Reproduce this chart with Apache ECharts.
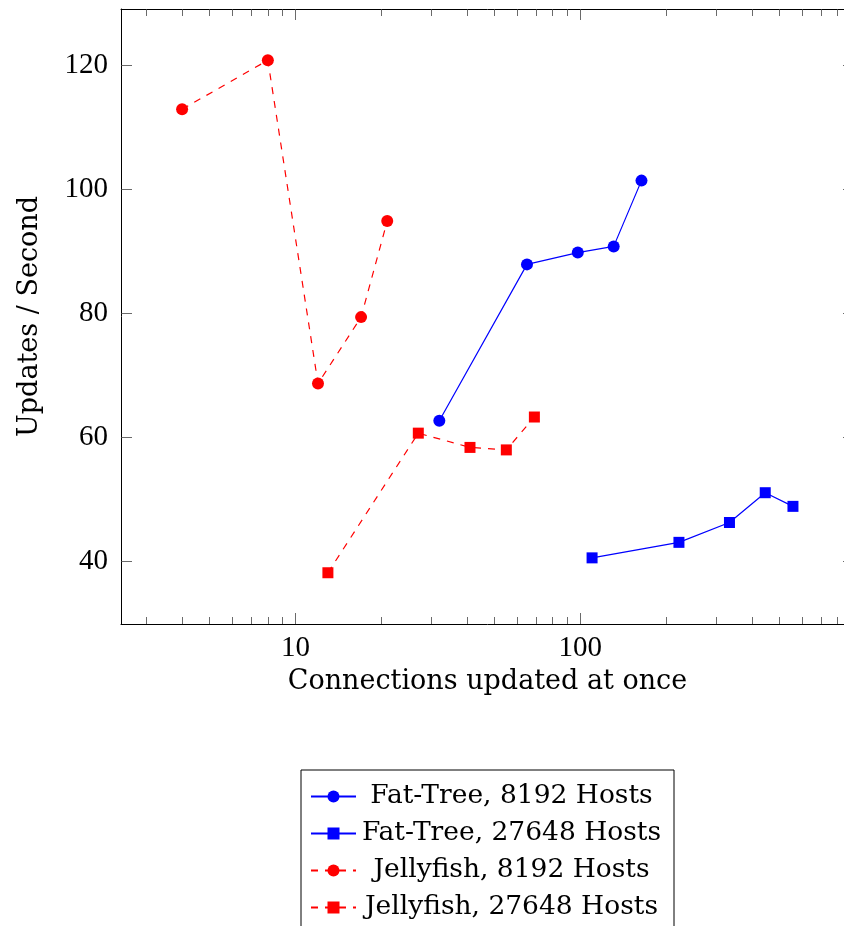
<!DOCTYPE html>
<html>
<head>
<meta charset="utf-8">
<script src="https://cdn.jsdelivr.net/npm/echarts@6/dist/echarts.min.js"></script>
<style>
  html, body { margin: 0; padding: 0; background: #fff; overflow: hidden; width: 844px; height: 926px; }
  #chart { width: 870px; height: 990px; }
</style>
</head>
<body>
<div id="chart"></div>
<script>
// ---- data ----
const seriesNames = ["Fat-Tree, 8192 Hosts", "Fat-Tree, 27648 Hosts", "Jellyfish, 8192 Hosts", "Jellyfish, 27648 Hosts"];

const ftSmallX = [32, 65, 98, 131, 164];
const ftSmallY = [62.7, 87.9, 89.8, 90.8, 101.4];

const ftLargeX = [110, 222, 334, 446, 558];
const ftLargeY = [40.6, 43.1, 46.3, 51.1, 48.9];

const jfSmallX = [4, 8, 12, 17, 21];
const jfSmallY = [112.9, 120.8, 68.7, 79.4, 94.9];

const jfLargeX = [13, 27, 41, 55, 69];
const jfLargeY = [38.2, 60.7, 58.4, 58.0, 63.3];

const xMajorTicks = [10, 100];
const xMinorTicks = [3, 4, 5, 6, 7, 8, 9, 20, 30, 40, 50, 60, 70, 80, 90, 200, 300, 400, 500, 600, 700, 800, 900];
const yTicks = [40, 60, 80, 100, 120];

const xMin = 2.441, xMax = 914;
const yMin = 29.94, yMax = 129.06;

// ---- chart ----
const NUMFONT = "Liberation Serif";
const TXTFONT = "DejaVu Serif";
const zip = (xs, ys) => xs.map((x, i) => [x, ys[i]]);

function xAx(pos, ticks, len, withLabels, withLine) {
  return {
    type: 'log', logBase: 10, min: xMin, max: xMax, position: pos,
    axisLine: { show: withLine, onZero: false, lineStyle: { color: '#000', width: 1 } },
    axisTick: { show: true, inside: true, length: len, customValues: ticks, lineStyle: { color: '#444', width: 0.8 } },
    axisLabel: withLabels ? { show: true, customValues: xMajorTicks, margin: 10, fontFamily: NUMFONT, fontSize: 29, color: '#000', formatter: v => String(Math.round(v)) } : { show: false },
    splitLine: { show: false },
    name: withLabels ? 'Connections updated at once' : '',
    nameLocation: 'middle', nameGap: 44,
    nameTextStyle: { fontFamily: TXTFONT, fontSize: 27, color: '#000' }
  };
}
function yAx(pos, withLabels) {
  return {
    type: 'value', min: yMin, max: yMax, position: pos,
    axisLine: { show: true, onZero: false, lineStyle: { color: '#000', width: 1 } },
    axisTick: { show: true, inside: true, length: 11, customValues: yTicks, lineStyle: { color: '#444', width: 0.8 } },
    axisLabel: withLabels ? { show: true, customValues: yTicks, margin: 13, fontFamily: NUMFONT, fontSize: 29, color: '#000' } : { show: false },
    splitLine: { show: false },
    name: withLabels ? 'Updates / Second' : '',
    nameLocation: 'middle', nameGap: 78,
    nameTextStyle: { fontFamily: TXTFONT, fontSize: 27, color: '#000' }
  };
}

const blue = '#0000ff', red = '#ff0000';
function mkSeries(name, xs, ys, color, symbol, dashed) {
  return {
    name, type: 'line', xAxisIndex: 0, yAxisIndex: 0,
    data: zip(xs, ys),
    symbol, symbolSize: symbol === 'circle' ? 12 : 11,
    showSymbol: true,
    lineStyle: { color, width: 1.2, type: dashed ? [7, 7] : 'solid' },
    itemStyle: { color },
    animation: false, z: 3
  };
}

const option = {
  animation: false,
  backgroundColor: '#fff',
  grid: { left: 121, top: 9, width: 733, height: 615, show: false, containLabel: false },
  xAxis: [
    xAx('bottom', xMajorTicks, 11, true, true),
    xAx('bottom', xMinorTicks, 7, false, false),
    xAx('top', xMajorTicks, 11, false, true),
    xAx('top', xMinorTicks, 7, false, false)
  ],
  yAxis: [
    yAx('left', true),
    yAx('right', false)
  ],
  legend: {
    orient: 'vertical',
    left: 301, top: 770,
    data: seriesNames,
    backgroundColor: '#fff',
    borderColor: '#000', borderWidth: 1,
    padding: [13, 12, 10, 9],
    itemWidth: 45, itemHeight: 15, itemGap: 10,
    formatter: name => '{t|' + name + '}',
    textStyle: {
      fontFamily: TXTFONT, fontSize: 26.5, color: '#000',
      rich: { t: { fontFamily: TXTFONT, fontSize: 26.5, color: '#000', width: 301, align: 'center', lineHeight: 30 } }
    }
  },
  series: [
    mkSeries(seriesNames[0], ftSmallX, ftSmallY, blue, 'circle', false),
    mkSeries(seriesNames[1], ftLargeX, ftLargeY, blue, 'rect', false),
    mkSeries(seriesNames[2], jfSmallX, jfSmallY, red, 'circle', true),
    mkSeries(seriesNames[3], jfLargeX, jfLargeY, red, 'rect', true)
  ]
};

const chart = echarts.init(document.getElementById('chart'), null, { renderer: 'canvas' });
chart.setOption(option);
</script>
</body>
</html>
